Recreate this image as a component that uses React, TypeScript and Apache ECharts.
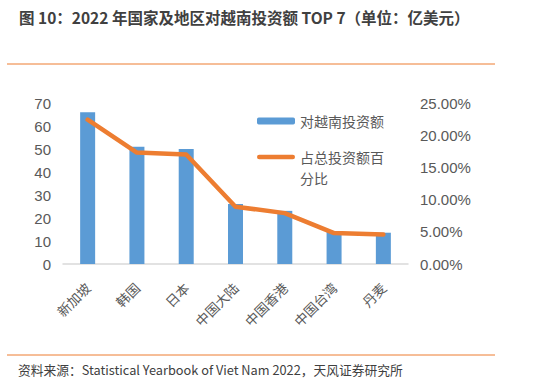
import React, { useEffect, useRef } from "react";
import * as echarts from "echarts";

const categories = ["新加坡", "韩国", "日本", "中国大陆", "中国香港", "中国台湾", "丹麦"];
const investValues = [66.0, 51.0, 50.0, 26.1, 23.1, 14.2, 13.6];
const sharePercent = [22.4, 17.3, 17.0, 8.9, 7.9, 4.8, 4.6];
const barName = "对越南投资额";
const lineName = "占总投资额百分比";
const titleText = "图 10：2022 年国家及地区对越南投资额 TOP 7（单位：亿美元）";
const sourceText = "资料来源：Statistical Yearbook of Viet Nam 2022，天风证券研究所";

const FONT = "'Noto Sans CJK SC', 'Noto Sans', sans-serif";
const AXFONT = "'Liberation Sans', Arial, sans-serif";

export default function App() {
  const ref = useRef<HTMLDivElement>(null);
  useEffect(() => {
    if (!ref.current) return;
    const chart = echarts.init(ref.current, null, { renderer: "svg" });
    chart.setOption({
      animation: false,
      backgroundColor: "#ffffff",
      grid: { left: 63, right: 125, top: 103, bottom: 123, containLabel: false },
      legend: [
        {
          data: [barName],
          orient: "vertical",
          left: 257,
          top: 110.5,
          padding: 0,
          itemWidth: 38,
          itemHeight: 7,
          itemGap: 0,
          textStyle: { color: "#595959", fontSize: 14, fontFamily: FONT, lineHeight: 21 },
        },
        {
          data: [
            {
              name: lineName,
              icon: "path://M2.25,0H35.75A2.25,2.25 0 0 1 35.75,4.5H2.25A2.25,2.25 0 0 1 2.25,0Z",
            },
          ],
          orient: "vertical",
          left: 257,
          top: 125.5,
          padding: 0,
          itemWidth: 38,
          itemHeight: 4.5,
          itemGap: 0,
          formatter: () => "\n占总投资额百\n分比",
          textStyle: { color: "#595959", fontSize: 14, fontFamily: FONT, lineHeight: 21 },
        },
      ],
      xAxis: {
        type: "category",
        data: categories,
        axisLine: { show: true, lineStyle: { color: "#d9d9d9", width: 1.5 } },
        axisTick: { show: false },
        axisLabel: { rotate: 45, color: "#595959", fontSize: 13.5, fontFamily: FONT, margin: 21, interval: 0 },
      },
      yAxis: [
        {
          type: "value",
          min: 0,
          max: 70,
          interval: 10,
          axisLine: { show: false },
          axisTick: { show: false },
          splitLine: { show: false },
          axisLabel: { color: "#595959", fontSize: 15, fontFamily: AXFONT, margin: 12 },
        },
        {
          type: "value",
          min: 0,
          max: 25,
          interval: 5,
          axisLine: { show: false },
          axisTick: { show: false },
          splitLine: { show: false },
          axisLabel: {
            color: "#595959",
            fontSize: 15,
            fontFamily: AXFONT,
            margin: 12,
            formatter: (v: number) => v.toFixed(2) + "%",
          },
        },
      ],
      series: [
        {
          name: barName,
          type: "bar",
          data: investValues,
          barWidth: 15,
          itemStyle: { color: "#5b9bd5" },
        },
        {
          name: lineName,
          type: "line",
          yAxisIndex: 1,
          data: sharePercent,
          symbol: "none",
          lineStyle: { color: "#ed7d31", width: 4.5, cap: "round", join: "round" },
          itemStyle: { color: "#ed7d31" },
        },
      ],
      graphic: [
        {
          type: "text",
          left: 19,
          top: 9,
          style: { text: titleText, fill: "#404040", font: `bold 15.5px ${FONT}` },
        },
        {
          type: "line",
          shape: { x1: 7, y1: 64, x2: 495, y2: 64 },
          style: { stroke: "#ed7d31", lineWidth: 1 },
        },
        {
          type: "line",
          shape: { x1: 7, y1: 355, x2: 495, y2: 355 },
          style: { stroke: "#ed7d31", lineWidth: 1 },
        },
        {
          type: "text",
          left: 18,
          top: 363,
          style: { text: sourceText, fill: "#404040", font: `12.75px ${FONT}` },
        },
      ],
    });
    return () => chart.dispose();
  }, []);
  return (
    <div
      ref={ref}
      style={{ position: "fixed", left: 0, top: 0, width: 533, height: 387, background: "#fff" }}
    />
  );
}
